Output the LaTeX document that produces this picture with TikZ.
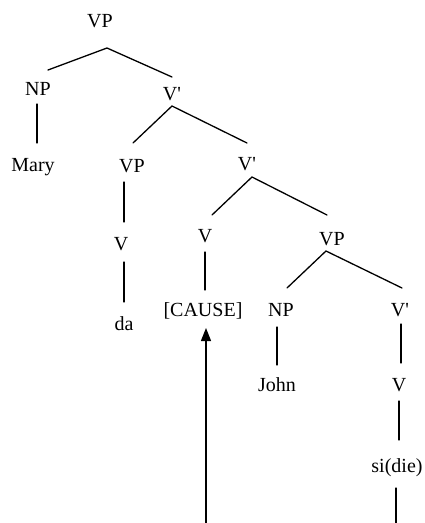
\documentclass[tikz,border=0pt]{standalone}
\usepackage{fontspec}
\newfontfamily\tnr{Liberation Serif}
\usetikzlibrary{arrows.meta}
\begin{document}
\begin{tikzpicture}[x=1pt,y=-1pt,
  lab/.style={font=\tnr\fontsize{20}{24}\selectfont, anchor=base, inner sep=0pt},
  edge/.style={line width=1.3pt, line cap=round},
  move/.style={line width=1.4pt, -{Triangle[length=13pt,width=10pt]}}]
\useasboundingbox (0,0) rectangle (424,523);
% labels
\node[lab] (vp1) at (100,27) {VP};
\node[lab] (np1) at (38,95) {NP};
\node[lab] (vb1) at (172,100) {V'};
\node[lab] (mary) at (33,171) {Mary};
\node[lab] (vp2) at (132,172) {VP};
\node[lab] (vb2) at (247,170) {V'};
\node[lab] (v1) at (121,250) {V};
\node[lab] (da) at (124,330) {da};
\node[lab] (v2) at (205,242) {V};
\node[lab] (vp3) at (332,245) {VP};
\node[lab] (cause) at (203,316) {[CAUSE]};
\node[lab] (np2) at (281,316) {NP};
\node[lab] (vb3) at (400,316) {V'};
\node[lab] (john) at (277,391) {John};
\node[lab] (v3) at (399,391) {V};
\node[lab] (sidie) at (397,472) {si(die)};
% junction points
\coordinate (vp1b) at (107,48);
\coordinate (np1t) at (48,70);
\coordinate (vb1t) at (172,77);
\coordinate (np1b) at (37,104);
\coordinate (maryt) at (37,143);
\coordinate (vb1b) at (172,106);
\coordinate (vp2t) at (133,143);
\coordinate (vb2t) at (247,143);
\coordinate (vp2b) at (124,182);
\coordinate (v1t) at (124,222);
\coordinate (v1b) at (124,262);
\coordinate (dat) at (124,302);
\coordinate (vb2b) at (252,177);
\coordinate (v2t) at (212,215);
\coordinate (vp3t) at (327,215);
\coordinate (v2b) at (205,252);
\coordinate (causet) at (205,290);
\coordinate (vp3b) at (326,251);
\coordinate (np2t) at (287,288);
\coordinate (vb3t) at (402,288);
\coordinate (np2b) at (277,327);
\coordinate (johnt) at (277,365);
\coordinate (vb3b) at (401,324);
\coordinate (v3t) at (401,363);
\coordinate (v3b) at (399,401);
\coordinate (sidiet) at (399,440);
\coordinate (sidieb) at (396,488);
\coordinate (lowR) at (396,523);
\coordinate (lowL) at (206,523);
\coordinate (causeb) at (206,328);
% edges
\draw[edge] (np1t) -- (vp1b) -- (vb1t);
\draw[edge] (np1b) -- (maryt);
\draw[edge] (vp2t) -- (vb1b) -- (vb2t);
\draw[edge] (vp2b) -- (v1t);
\draw[edge] (v1b) -- (dat);
\draw[edge] (v2t) -- (vb2b) -- (vp3t);
\draw[edge] (v2b) -- (causet);
\draw[edge] (np2t) -- (vp3b) -- (vb3t);
\draw[edge] (np2b) -- (johnt);
\draw[edge] (vb3b) -- (v3t);
\draw[edge] (v3b) -- (sidiet);
\draw[edge] (sidieb) -- (lowR);
\draw[move] (lowL) -- (causeb);
\end{tikzpicture}
\end{document}
